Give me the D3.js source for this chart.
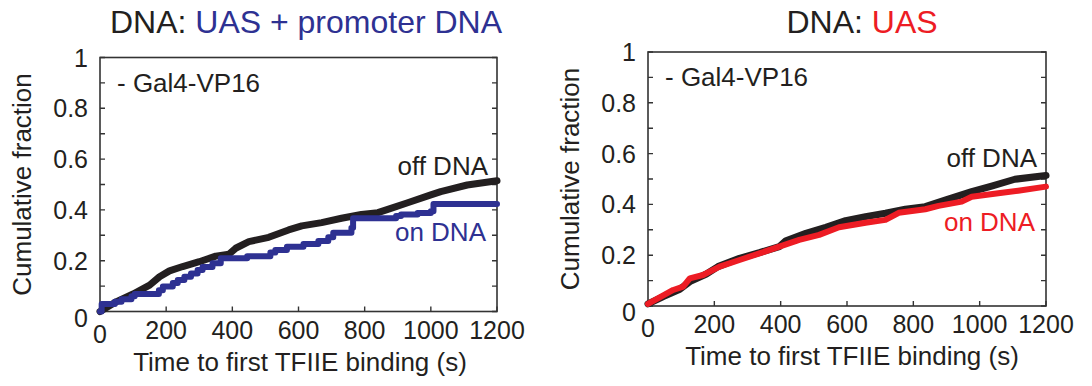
<!DOCTYPE html>
<html>
<head>
<meta charset="utf-8">
<script src="https://cdn.jsdelivr.net/npm/d3@7"></script>
<style>
  body { margin: 0; background: #fff; }
  text { font-family: "Liberation Sans", Arial, sans-serif; fill: #231f20; }
</style>
</head>
<body>
<svg id="chart" width="1092" height="386"></svg>
<script>
// axis ticks
const timeTicks = [0, 200, 400, 600, 800, 1000, 1200];
const fracTicks = [0, 0.2, 0.4, 0.6, 0.8, 1];
const fracMinorTicks = [0.1, 0.3, 0.5, 0.7, 0.9];

// UAS + promoter DNA, off DNA (time s, cumulative fraction)
const promOff = [
  [0, 0], [50, 0.039], [100, 0.069], [150, 0.104], [180, 0.137], [210, 0.16],
  [250, 0.177], [300, 0.196], [350, 0.218], [390, 0.226], [410, 0.249],
  [450, 0.275], [510, 0.292], [570, 0.321], [610, 0.337], [670, 0.35],
  [730, 0.367], [790, 0.382], [840, 0.389], [870, 0.402], [930, 0.428],
  [1000, 0.459], [1030, 0.472], [1110, 0.498], [1200, 0.515]
];
// UAS + promoter DNA, on DNA (step data)
const promOn = [
  [0, 0], [5, 0.03], [45, 0.038], [65, 0.048], [95, 0.06], [105, 0.069],
  [178, 0.084], [190, 0.098], [220, 0.112], [235, 0.124], [255, 0.137],
  [275, 0.15], [295, 0.163], [310, 0.175], [340, 0.19], [365, 0.21],
  [445, 0.218], [515, 0.232], [530, 0.242], [565, 0.255], [615, 0.266],
  [660, 0.278], [690, 0.292], [705, 0.31], [760, 0.33], [765, 0.367],
  [895, 0.376], [910, 0.382], [960, 0.388], [1000, 0.395], [1008, 0.423],
  [1200, 0.423]
];
// UAS only, off DNA
const uasOff = [
  [0, 0.008], [46, 0.037], [96, 0.066], [126, 0.096], [176, 0.126],
  [211, 0.155], [276, 0.188], [336, 0.21], [396, 0.234], [416, 0.257],
  [476, 0.286], [536, 0.31], [596, 0.336], [656, 0.352], [716, 0.365],
  [776, 0.381], [836, 0.391], [896, 0.417], [976, 0.45], [1036, 0.472],
  [1106, 0.499], [1200, 0.514]
];
// UAS only, on DNA
const uasOn = [
  [0, 0.008], [76, 0.063], [106, 0.076], [126, 0.109], [166, 0.122],
  [216, 0.155], [276, 0.181], [336, 0.207], [396, 0.234], [456, 0.26],
  [516, 0.28], [576, 0.31], [656, 0.328], [716, 0.339], [756, 0.367],
  [836, 0.381], [876, 0.394], [946, 0.411], [976, 0.43], [1056, 0.444],
  [1116, 0.454], [1200, 0.47]
];

const BLACK = '#231f20';
const BLUE = '#2e3192';
const RED = '#ed1c24';

const svg = d3.select('#chart');

function drawPanel(opt) {
  const x = d3.scaleLinear().domain([0, 1200]).range([opt.left, opt.right]);
  const y = d3.scaleLinear().domain([0, 1]).range([opt.bottom, opt.top]);
  const g = svg.append('g');
  const tickLen = 5;

  // box
  g.append('rect')
    .attr('x', opt.left).attr('y', opt.top)
    .attr('width', opt.right - opt.left).attr('height', opt.bottom - opt.top)
    .attr('fill', 'none').attr('stroke', '#333').attr('stroke-width', 1.6);

  // y ticks, both sides, pointing in
  const allY = fracTicks.concat(fracMinorTicks);
  g.selectAll('.yt').data(allY).join('path')
    .attr('d', d => `M${opt.left},${y(d)}h${tickLen}M${opt.right},${y(d)}h${-tickLen}`)
    .attr('stroke', '#333').attr('stroke-width', 1.4);
  g.selectAll('.xt').data(timeTicks).join('path')
    .attr('d', d => `M${x(d)},${opt.bottom}v${-tickLen}`)
    .attr('stroke', '#333').attr('stroke-width', 1.4);

  // tick labels
  g.selectAll('.yl').data(fracTicks).join('text')
    .attr('x', opt.left - 12)
    .attr('y', d => y(d) + 9 + (d === 0 ? 6 : 0))
    .attr('text-anchor', 'end').attr('font-size', 25)
    .text(d => d3.format('~g')(d));
  g.selectAll('.xl').data(timeTicks).join('text')
    .attr('x', d => x(d))
    .attr('y', d => opt.bottom + 27 + (d === 0 ? 4 : 0))
    .attr('text-anchor', 'middle').attr('font-size', 25)
    .text(d => d);

  // axis titles
  g.append('text')
    .attr('transform', `translate(${opt.yLabelX},${(opt.top + opt.bottom) / 2}) rotate(-90)`)
    .attr('text-anchor', 'middle').attr('font-size', 26)
    .text('Cumulative fraction');
  g.append('text')
    .attr('x', opt.xLabelX).attr('y', opt.xLabelY)
    .attr('text-anchor', 'middle').attr('font-size', 26)
    .text('Time to first TFIIE binding (s)');

  // title
  const t = g.append('text')
    .attr('x', opt.titleX).attr('y', 33)
    .attr('text-anchor', 'middle').attr('font-size', 32);
  t.append('tspan').text('DNA: ');
  t.append('tspan').style('fill', opt.color).text(opt.titleColored);

  g.append('text')
    .attr('x', opt.left + 17).attr('y', opt.top + 34)
    .attr('font-size', 26).text('- Gal4-VP16');

  // curves
  const lineOff = d3.line().x(d => x(d[0])).y(d => y(d[1])).curve(d3.curveLinear);
  const lineOn = d3.line().x(d => x(d[0])).y(d => y(d[1]))
    .curve(opt.stepOn ? d3.curveStepAfter : d3.curveLinear);
  g.append('path').datum(opt.off).attr('d', lineOff)
    .attr('fill', 'none').attr('stroke', BLACK).attr('stroke-width', 7)
    .attr('stroke-linecap', 'round').attr('stroke-linejoin', 'round');
  g.append('path').datum(opt.on).attr('d', lineOn)
    .attr('fill', 'none').attr('stroke', opt.color).attr('stroke-width', 6)
    .attr('stroke-linecap', 'round').attr('stroke-linejoin', 'round');

  g.append('text')
    .attr('x', opt.right - 9).attr('y', opt.offLabelY)
    .attr('text-anchor', 'end').attr('font-size', 26).text('off DNA');
  g.append('text')
    .attr('x', opt.right - 11).attr('y', opt.onLabelY)
    .attr('text-anchor', 'end').attr('font-size', 26)
    .style('fill', opt.color).text('on DNA');
}

drawPanel({
  left: 100, right: 497, top: 57.5, bottom: 311.5,
  color: BLUE, titleColored: 'UAS + promoter DNA', titleX: 306,
  yLabelX: 31, xLabelX: 300, xLabelY: 371,
  off: promOff, on: promOn, stepOn: true,
  offLabelY: 175, onLabelY: 241
});
drawPanel({
  left: 648, right: 1046, top: 52, bottom: 306,
  color: RED, titleColored: 'UAS', titleX: 862,
  yLabelX: 579, xLabelX: 852, xLabelY: 365,
  off: uasOff, on: uasOn, stepOn: false,
  offLabelY: 167, onLabelY: 231
});
</script>
</body>
</html>
